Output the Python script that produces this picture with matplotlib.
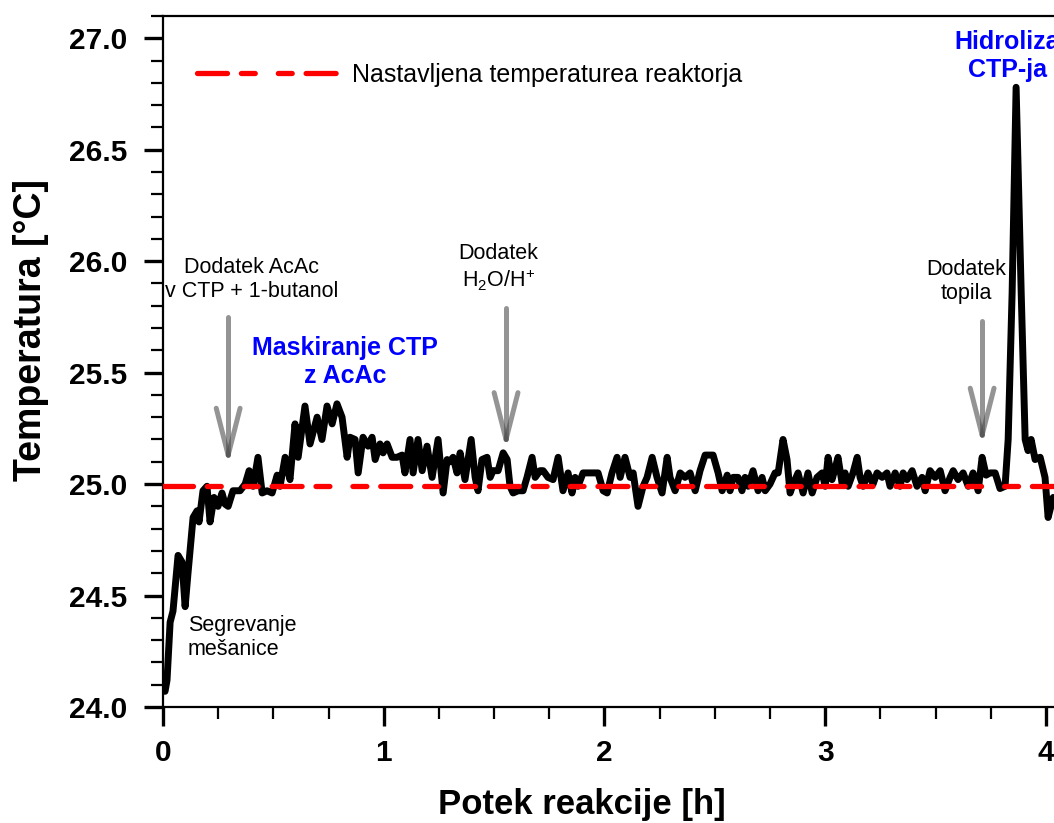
import matplotlib.pyplot as plt
from matplotlib.ticker import MultipleLocator, FormatStrFormatter
from matplotlib.lines import Line2D

plt.rcParams['font.family'] = ['Liberation Sans', 'DejaVu Sans']
plt.rcParams['font.weight'] = 'bold'
plt.rcParams['mathtext.fontset'] = 'custom'
plt.rcParams['mathtext.rm'] = 'Liberation Sans'
plt.rcParams['lines.scale_dashes'] = False

# reactor temperature log
time_h = [
    0.009, 0.018, 0.032, 0.045, 0.068, 0.086, 0.100, 0.113, 0.136, 0.154,
    0.163, 0.181, 0.199, 0.213, 0.231, 0.249, 0.267, 0.281, 0.295, 0.317,
    0.349, 0.372, 0.390, 0.408, 0.430, 0.449, 0.471, 0.494, 0.517, 0.530,
    0.553, 0.575, 0.598, 0.612, 0.643, 0.666, 0.698, 0.720, 0.743, 0.766,
    0.788, 0.811, 0.834, 0.847,
    0.870, 0.884, 0.906, 0.929, 0.947, 0.961, 0.983, 0.997, 1.015, 1.038,
    1.060, 1.083, 1.096, 1.119, 1.133, 1.155, 1.174, 1.196, 1.219, 1.246,
    1.269, 1.287, 1.300, 1.314, 1.332, 1.346, 1.368, 1.396, 1.414, 1.427,
    1.445, 1.468, 1.482, 1.495, 1.518, 1.541, 1.559, 1.572, 1.586, 1.609,
    1.631, 1.649, 1.672, 1.686, 1.708, 1.722, 1.744, 1.767, 1.790, 1.812,
    1.835, 1.853, 1.867, 1.880, 1.903, 1.971,
    1.994, 2.012, 2.034, 2.057, 2.071, 2.093, 2.116, 2.130, 2.152, 2.175,
    2.193, 2.216, 2.238, 2.261, 2.284, 2.297, 2.320, 2.343, 2.365, 2.388,
    2.411, 2.433, 2.456, 2.492, 2.515, 2.533, 2.556, 2.569, 2.583, 2.605,
    2.623, 2.637, 2.651, 2.673, 2.696, 2.714, 2.728, 2.750, 2.773, 2.787,
    2.809, 2.827, 2.841, 2.855, 2.877, 2.900, 2.922, 2.941, 2.963, 2.986,
    3.000, 3.013, 3.031, 3.045, 3.058, 3.077, 3.090, 3.104, 3.126, 3.145,
    3.158, 3.172, 3.194, 3.217, 3.235, 3.258, 3.280, 3.294, 3.317, 3.339,
    3.353, 3.371, 3.394, 3.416, 3.439, 3.453, 3.475, 3.498, 3.521, 3.543,
    3.566, 3.580, 3.602, 3.625, 3.648, 3.670, 3.693, 3.711, 3.729, 3.747,
    3.770, 3.792, 3.815, 3.829, 3.847, 3.865, 3.888, 3.906, 3.919, 3.933,
    3.951, 3.974, 3.996, 4.010, 4.033,
]
temp_c = [
    24.07, 24.12, 24.38, 24.43, 24.68, 24.65, 24.45, 24.60, 24.85, 24.88,
    24.83, 24.97, 24.99, 24.83, 24.94, 24.90, 24.96, 24.91, 24.90, 24.97,
    24.97, 25.00, 25.06, 24.99, 25.12, 24.96, 24.97, 24.96, 25.04, 24.99,
    25.12, 25.02, 25.27, 25.12, 25.35, 25.18, 25.30, 25.20, 25.35, 25.27,
    25.36, 25.30, 25.12, 25.21,
    25.20, 25.05, 25.21, 25.17, 25.21, 25.11, 25.18, 25.14, 25.18, 25.12,
    25.12, 25.13, 25.05, 25.20, 25.05, 25.20, 25.06, 25.17, 25.03, 25.20,
    24.96, 25.11, 25.10, 25.12, 25.05, 25.14, 25.02, 25.20, 25.03, 24.97,
    25.11, 25.12, 25.03, 25.06, 25.06, 25.14, 25.11, 24.99, 24.96, 24.97,
    24.97, 25.03, 25.12, 25.03, 25.06, 25.06, 25.03, 25.02, 25.12, 24.97,
    25.05, 24.96, 25.03, 24.99, 25.05, 25.05,
    24.97, 24.96, 25.05, 25.12, 25.03, 25.12, 25.03, 25.05, 24.90, 24.99,
    25.03, 25.12, 25.03, 24.96, 25.12, 25.03, 24.97, 25.05, 25.03, 25.05,
    24.97, 25.06, 25.13, 25.13, 25.05, 24.97, 25.04, 24.97, 25.03, 25.03,
    24.97, 25.03, 24.99, 25.06, 24.97, 25.03, 24.97, 25.00, 25.05, 25.05,
    25.20, 25.11, 24.96, 25.00, 25.05, 24.96, 25.05, 24.96, 25.03, 25.05,
    24.99, 25.12, 25.02, 25.07, 25.12, 25.00, 25.05, 24.99, 25.05, 25.12,
    25.03, 24.99, 25.05, 25.00, 25.05, 25.03, 25.05, 24.99, 25.05, 24.99,
    25.05, 25.02, 25.06, 24.99, 25.03, 24.97, 25.06, 25.03, 25.06, 24.97,
    25.03, 25.06, 25.02, 25.05, 24.99, 25.05, 24.97, 25.12, 25.04, 25.05,
    25.05, 24.98, 24.99, 25.20, 25.86, 26.78, 25.86, 25.20, 25.15, 25.20,
    25.11, 25.12, 25.03, 24.85, 24.94,
]
setpoint_c = 24.99

# additions: time, arrow start, arrow tip
event_time = [0.295, 1.554, 3.711]
event_top = [25.75, 25.79, 25.73]
event_tip = [25.13, 25.20, 25.22]

red_dashes = (21.6, 10, 10, 16.6, 10, 10)

fig = plt.figure(figsize=(10.54, 8.23), dpi=100)
ax = fig.add_axes([0.1547, 0.141, 0.8795, 0.8396])

ax.plot(time_h, temp_c, color='black', lw=5.0, solid_joinstyle='round',
        solid_capstyle='round', zorder=2)
ax.axhline(setpoint_c, color='red', lw=3.8, dashes=red_dashes,
           dash_capstyle='round', zorder=3)

# gray arrows marking the additions
for t, top, tip in zip(event_time, event_top, event_tip):
    kw = dict(color='0.3', alpha=0.6, lw=3.6, solid_capstyle='round', zorder=4)
    ax.plot([t, t], [top, tip], **kw)
    ax.plot([t - 0.054, t], [tip + 0.21, tip], **kw)
    ax.plot([t + 0.054, t], [tip + 0.21, tip], **kw)

note = dict(fontsize=15.5, fontweight='normal', ha='center', va='center')
ax.text(0.40, 25.917, 'Dodatek AcAc\nv CTP + 1-butanol', **note)
ax.text(1.52, 25.97, 'Dodatek\nH$_\\mathregular{2}$O/H$^\\mathregular{+}$', **note)
ax.text(3.638, 25.91, 'Dodatek\ntopila', **note)
ax.text(0.113, 24.31, 'Segrevanje\nmešanice', fontsize=15.5, fontweight='normal',
        ha='left', va='center')
ax.text(0.825, 25.549, 'Maskiranje CTP\nz AcAc', ha='center', va='center',
        fontsize=18, color='#0000ff')
ax.text(3.824, 26.92, 'Hidroliza\nCTP-ja', ha='center', va='center',
        fontsize=18, color='#0000ff')

handle = Line2D([], [], color='red', lw=3.8, dashes=red_dashes, dash_capstyle='round')
ax.legend([handle], ['Nastavljena temperaturea reaktorja'], loc='center left',
          bbox_to_anchor=(0.0367, 0.9146), frameon=False, borderpad=0,
          borderaxespad=0, handlelength=6.0, handletextpad=0.2,
          prop={'size': 18, 'weight': 'normal'})

ax.set_xlim(0, 4.2)
ax.set_ylim(24.0, 27.1)
ax.xaxis.set_major_locator(MultipleLocator(1))
ax.xaxis.set_minor_locator(MultipleLocator(0.25))
ax.yaxis.set_major_locator(MultipleLocator(0.5))
ax.yaxis.set_minor_locator(MultipleLocator(0.1))
ax.yaxis.set_major_formatter(FormatStrFormatter('%.1f'))

for side in ['left', 'bottom', 'top']:
    ax.spines[side].set_linewidth(1.6)
ax.spines['right'].set_visible(False)
ax.tick_params(which='both', direction='out', top=False, right=False)
ax.tick_params(which='major', length=14, width=2.4, labelsize=21.5)
ax.tick_params(axis='y', which='major', pad=12)
ax.tick_params(axis='x', which='major', pad=9)
ax.tick_params(which='minor', length=8.6, width=1.6)

ax.set_xlabel('Potek reakcije [h]', fontsize=25, fontweight='bold')
ax.set_ylabel('Temperatura [°C]', fontsize=27, fontweight='bold')
ax.xaxis.set_label_coords(0.452, -0.117)
ax.yaxis.set_label_coords(-0.123, 0.546)

fig.savefig('out.png', dpi=100)
